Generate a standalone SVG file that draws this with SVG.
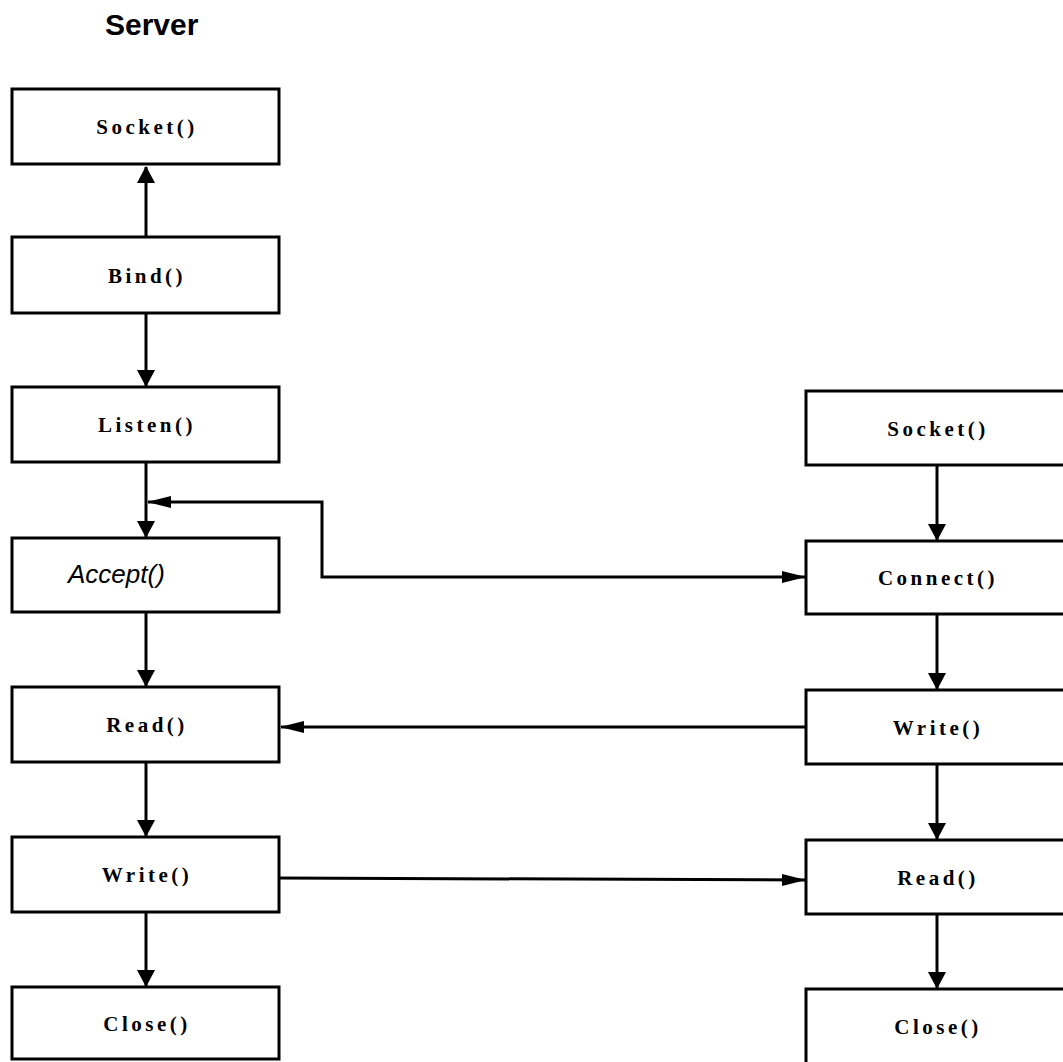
<svg xmlns="http://www.w3.org/2000/svg" width="1063" height="1062" viewBox="0 0 1063 1062">
<style>
.box{fill:#fff;stroke:#000;stroke-width:3}
.lbl{font-family:"Liberation Serif",serif;font-weight:bold;font-size:21px;letter-spacing:3.5px;text-anchor:middle;fill:#000}
.it{font-family:"Liberation Sans",Arial,sans-serif;font-style:italic;font-size:26px;fill:#000}
.title{font-family:"Liberation Sans",Arial,sans-serif;font-weight:bold;font-size:30px;fill:#000}
.con{fill:none;stroke:#000;stroke-width:3}
</style>
<defs>
<marker id="ah" markerUnits="userSpaceOnUse" markerWidth="17" markerHeight="18" refX="16" refY="9" orient="auto-start-reverse">
<path d="M0,0 L17,9 L0,18 z" fill="#000"/>
</marker>
<marker id="ahs" markerUnits="userSpaceOnUse" markerWidth="24" markerHeight="14" refX="23" refY="7" orient="auto-start-reverse">
<path d="M0,1 L24,7 L0,13 z" fill="#000"/>
</marker>
</defs>
<rect width="1063" height="1062" fill="#fff"/>
<text class="title" x="105" y="35">Server</text>

<g id="connectors">
<line class="con" x1="146" y1="237" x2="146" y2="167" marker-end="url(#ah)"/>
<line class="con" x1="146" y1="313" x2="146" y2="386" marker-end="url(#ah)"/>
<line class="con" x1="146" y1="462" x2="146" y2="537" marker-end="url(#ah)"/>
<line class="con" x1="146" y1="612" x2="146" y2="686" marker-end="url(#ah)"/>
<line class="con" x1="146" y1="762" x2="146" y2="836" marker-end="url(#ah)"/>
<line class="con" x1="146" y1="912" x2="146" y2="986" marker-end="url(#ah)"/>
<line class="con" x1="937" y1="465" x2="937" y2="540" marker-end="url(#ah)"/>
<line class="con" x1="937" y1="614" x2="937" y2="689" marker-end="url(#ah)"/>
<line class="con" x1="937" y1="764" x2="937" y2="839" marker-end="url(#ah)"/>
<line class="con" x1="937" y1="914" x2="937" y2="988" marker-end="url(#ah)"/>
<path class="con" d="M148,502 L322,502 L322,577 L805,577" marker-start="url(#ahs)" marker-end="url(#ahs)"/>
<line class="con" x1="806" y1="727" x2="281" y2="727" marker-end="url(#ahs)"/>
<line class="con" x1="279" y1="878" x2="805" y2="880" marker-end="url(#ahs)"/>
</g>

<g id="s-socket"><rect class="box" x="12" y="89" width="267" height="75"/><text class="lbl" x="147" y="134">Socket()</text></g>
<g id="s-bind"><rect class="box" x="12" y="237" width="267" height="76"/><text class="lbl" x="147" y="283">Bind()</text></g>
<g id="s-listen"><rect class="box" x="12" y="387" width="267" height="75"/><text class="lbl" x="147" y="432">Listen()</text></g>
<g id="s-accept"><rect class="box" x="12" y="538" width="267" height="74"/><text class="it" x="68" y="583">Accept()</text></g>
<g id="s-read"><rect class="box" x="12" y="687" width="267" height="75"/><text class="lbl" x="147" y="732">Read()</text></g>
<g id="s-write"><rect class="box" x="12" y="837" width="267" height="75"/><text class="lbl" x="147" y="882">Write()</text></g>
<g id="s-close"><rect class="box" x="12" y="987" width="267" height="72"/><text class="lbl" x="147" y="1031">Close()</text></g>

<g id="c-socket"><rect class="box" x="806" y="391" width="262" height="74"/><text class="lbl" x="938" y="436">Socket()</text></g>
<g id="c-connect"><rect class="box" x="806" y="541" width="262" height="73"/><text class="lbl" x="938" y="585">Connect()</text></g>
<g id="c-write"><rect class="box" x="806" y="690" width="262" height="74"/><text class="lbl" x="938" y="735">Write()</text></g>
<g id="c-read"><rect class="box" x="806" y="840" width="262" height="74"/><text class="lbl" x="938" y="885">Read()</text></g>
<g id="c-close"><rect class="box" x="806" y="989" width="262" height="76"/><text class="lbl" x="938" y="1034">Close()</text></g>
</svg>
